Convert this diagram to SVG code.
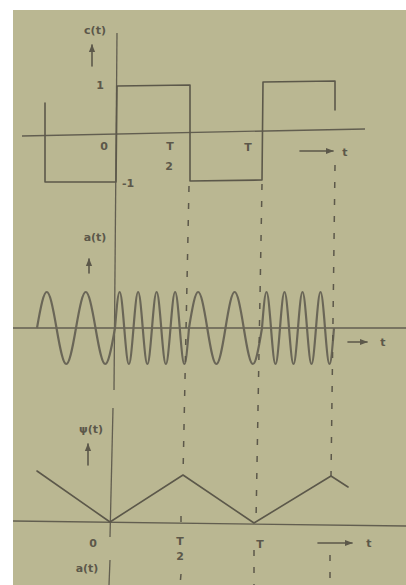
<svg xmlns="http://www.w3.org/2000/svg" width="406" height="585" viewBox="0 0 406 585">
<style>
.ink{stroke:#5c584a;fill:none;stroke-width:1.6;stroke-linecap:round;stroke-linejoin:round}
.ax{stroke:#625e50;fill:none;stroke-width:1.3}
.wave{stroke:#6a6657;fill:none;stroke-width:2.2;stroke-linejoin:round}
.dash{stroke:#5c584a;fill:none;stroke-width:1.5;stroke-dasharray:6 11}
.lbl{font-family:"DejaVu Sans",sans-serif;font-weight:bold;font-size:11px;fill:#5c584a;text-anchor:middle}
</style>
<defs>
<marker id="ah" viewBox="0 0 10 10" refX="9" refY="5" markerWidth="5" markerHeight="5" orient="auto">
<path d="M0,1 L10,5 L0,9 Z" fill="#5c584a"/>
</marker>
</defs>
<rect width="406" height="585" fill="#ffffff"/>
<rect x="13" y="10" width="393" height="575" fill="#bab792"/>

<g id="plot-c">
<line class="ax" x1="22" y1="136" x2="365" y2="129"/>
<line class="ax" x1="117" y1="33" x2="114" y2="390"/>
<path class="ink" d="M45,103 L45,182 L116,182 L117,86 L190,85 L190,181 L262,180 L263,82 L335,81 L335,110"/>
<text class="lbl" x="95" y="34">c(t)</text>
<line class="ink" x1="92" y1="66" x2="92" y2="45" stroke-width="1.4" marker-end="url(#ah)"/>
<text class="lbl" x="100" y="89">1</text>
<text class="lbl" x="104" y="150">0</text>
<text class="lbl" x="170" y="150">T</text>
<text class="lbl" x="169" y="170">2</text>
<text class="lbl" x="248" y="151">T</text>
<text class="lbl" x="128" y="187">-1</text>
<line class="ink" x1="300" y1="151" x2="333" y2="151" stroke-width="1.3" marker-end="url(#ah)"/>
<text class="lbl" x="345" y="156">t</text>
</g>

<g id="plot-a">
<line class="ax" x1="13" y1="328" x2="406" y2="328"/>
<path class="wave" d="M37,328
C45.28,280 48.22,280 56.5,328 C64.78,376 67.72,376 76,328
C84.28,280 87.22,280 95.5,328 C103.78,376 106.72,376 115,328
C118.93,280 120.32,280 124.25,328 C128.18,376 129.57,376 133.5,328
C137.43,280 138.82,280 142.75,328 C146.68,376 148.07,376 152,328
C155.93,280 157.32,280 161.25,328 C165.18,376 166.57,376 170.5,328
C174.43,280 175.82,280 179.75,328 C183.68,376 185.07,376 189,328
C196.75,280 199.5,280 207.25,328 C215,376 217.75,376 225.5,328
C233.25,280 236,280 243.75,328 C251.5,376 254.25,376 262,328
C265.82,280 267.18,280 271,328 C274.82,376 276.18,376 280,328
C283.82,280 285.18,280 289,328 C292.82,376 294.18,376 298,328
C301.82,280 303.18,280 307,328 C310.82,376 312.18,376 316,328
C319.82,280 321.18,280 325,328 C328.82,376 330.18,376 334,328"/>
<text class="lbl" x="95" y="241">a(t)</text>
<line class="ink" x1="89" y1="273" x2="89" y2="259" stroke-width="1.3" marker-end="url(#ah)"/>
<line class="ink" x1="348" y1="342" x2="367" y2="342" stroke-width="1.3" marker-end="url(#ah)"/>
<text class="lbl" x="383" y="346">t</text>
</g>

<g id="plot-phi">
<line class="ax" x1="13" y1="521" x2="406" y2="526"/>
<line class="ax" x1="113" y1="408" x2="110" y2="537"/>
<line class="ax" x1="110" y1="560" x2="109" y2="585"/>
<path class="ink" d="M37,471 L110,522 L183,475 L254,523 L331,476 L348,487"/>
<text class="lbl" x="91" y="433">ψ(t)</text>
<line class="ink" x1="88" y1="465" x2="88" y2="444" stroke-width="1.4" marker-end="url(#ah)"/>
<text class="lbl" x="93" y="547">0</text>
<text class="lbl" x="180" y="545">T</text>
<text class="lbl" x="180" y="560">2</text>
<text class="lbl" x="260" y="548">T</text>
<line class="ink" x1="318" y1="543" x2="352" y2="543" stroke-width="1.3" marker-end="url(#ah)"/>
<text class="lbl" x="369" y="547">t</text>
<text class="lbl" x="87" y="572">a(t)</text>
</g>

<g id="connectors">
<line class="dash" x1="189" y1="186" x2="183" y2="475"/>
<line class="dash" x1="181" y1="516" x2="181" y2="526"/>
<line class="dash" x1="181" y1="574" x2="180" y2="585"/>
<line class="dash" x1="262" y1="184" x2="256" y2="521"/>
<line class="dash" x1="254" y1="550" x2="254" y2="585"/>
<line class="dash" x1="335" y1="165" x2="331" y2="476"/>
<line class="dash" x1="330" y1="555" x2="330" y2="585"/>
</g>
</svg>
